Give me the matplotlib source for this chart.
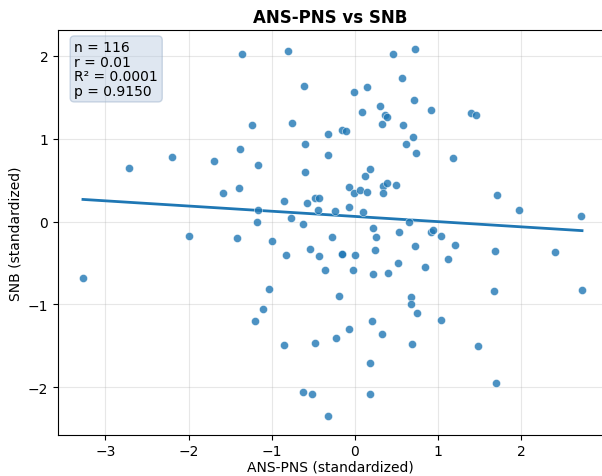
import numpy as np
import matplotlib
matplotlib.use('Agg')
import matplotlib.pyplot as plt

# standardized values
ans_pns = [-1.36, -0.80, -0.61, -1.24, -0.76, -0.60, -1.38, -2.20, -1.70, -1.17,
           -2.72, -0.60, -1.39, -1.59, -0.85, -0.58, -0.48, -0.43, -1.16, -1.18,
           -0.77, -0.62, -0.44, -0.32, -0.16, -0.11, -0.01, 0.14, 0.08, 0.30,
           0.36, 0.39, 0.32, -0.32, 0.46, 0.72, 0.56, 0.71, 0.92, 1.40,
           1.45, 0.58, 0.70, 0.61, 0.73, 1.18, 0.18, 0.12, -0.07, -0.01,
           0.06, 0.15, 0.34, 0.39, 0.49, 0.34, 1.71, 1.97, 2.72, -0.24,
           0.10, -0.07, 0.65, 0.22, 0.53, 0.91, 0.94, 0.25, -0.28, -1.00,
           -0.54, -0.83, -0.43, -0.16, -0.15, 0.00, 0.24, -1.42, -1.99, -0.36,
           -3.27, -1.03, -1.10, -1.20, -0.85, -0.48, -0.62, -0.52, -0.32, -0.02,
           0.22, 0.40, -0.19, 0.20, -0.07, 0.32, -0.23, 0.18, 0.18, 0.52,
           0.84, 1.12, 1.67, 0.67, 0.67, 0.75, 1.03, 0.68, 1.48, 1.70,
           1.03, 0.72, 1.20, 1.68, 2.41, 2.73]
snb = [2.02, 2.06, 1.63, 1.17, 1.19, 0.93, 0.88, 0.78, 0.73, 0.68,
       0.64, 0.60, 0.41, 0.35, 0.25, 0.22, 0.29, 0.29, 0.14, 0.00,
       0.04, -0.03, 0.14, 1.06, 1.10, 1.09, 1.56, 1.62, 1.32, 1.39,
       1.29, 1.26, 1.18, 0.80, 2.02, 2.08, 1.73, 1.46, 1.35, 1.31,
       1.29, 1.17, 1.02, 0.94, 0.83, 0.77, 0.63, 0.55, 0.42, 0.35,
       0.38, 0.36, 0.43, 0.46, 0.44, 0.34, 0.32, 0.14, 0.07, 0.13,
       0.12, 0.17, -0.01, -0.08, -0.12, -0.13, -0.10, -0.19, -0.19, -0.24,
       -0.33, -0.40, -0.41, -0.39, -0.39, -0.40, -0.34, -0.20, -0.18, -0.59,
       -0.68, -0.81, -1.06, -1.20, -1.49, -1.46, -2.06, -2.08, -2.34, -0.58,
       -0.63, -0.62, -0.90, -1.20, -1.30, -1.35, -1.40, -1.71, -2.08, -0.50,
       -0.55, -0.45, -0.84, -0.91, -0.99, -1.10, -1.19, -1.48, -1.50, -1.95,
       -0.18, -0.29, -0.28, -0.35, -0.37, -0.82]

stats_text = 'n = 116\nr = 0.01\nR² = 0.0001\np = 0.9150'

x = np.array(ans_pns)
y = np.array(snb)

fig = plt.figure(figsize=(6.02, 4.77), dpi=100)
ax = fig.add_axes([58/602, 1-435.7/477, 1-58/602, (435.7-31)/477])

ax.scatter(x, y, s=34, color='#1f77b4', alpha=0.8, edgecolor='white', linewidth=0.4, zorder=3)

# fitted line
slope, intercept = np.polyfit(x, y, 1)
xl = np.array([x.min(), x.max()])
ax.plot(xl, slope*xl + intercept, color='#1f77b4', linewidth=2, zorder=2)

ax.set_xlim(-3.57, 2.97)
ax.set_ylim(-2.57, 2.31)
ax.grid(True, alpha=0.3)
ax.spines['right'].set_visible(False)

ax.set_title('ANS-PNS vs SNB', fontsize=12, fontweight='bold')
ax.set_xlabel('ANS-PNS (standardized)', fontsize=10, labelpad=1)
ax.set_ylabel('SNB (standardized)', fontsize=10)

ax.text(0.03, 0.975, stats_text, transform=ax.transAxes, fontsize=10,
        va='top', ha='left', linespacing=1.05,
        bbox=dict(boxstyle='round', facecolor=(0.69, 0.77, 0.87, 0.4),
                  edgecolor=(0.62, 0.70, 0.80, 0.5)))

fig.savefig('out.png', dpi=100)
